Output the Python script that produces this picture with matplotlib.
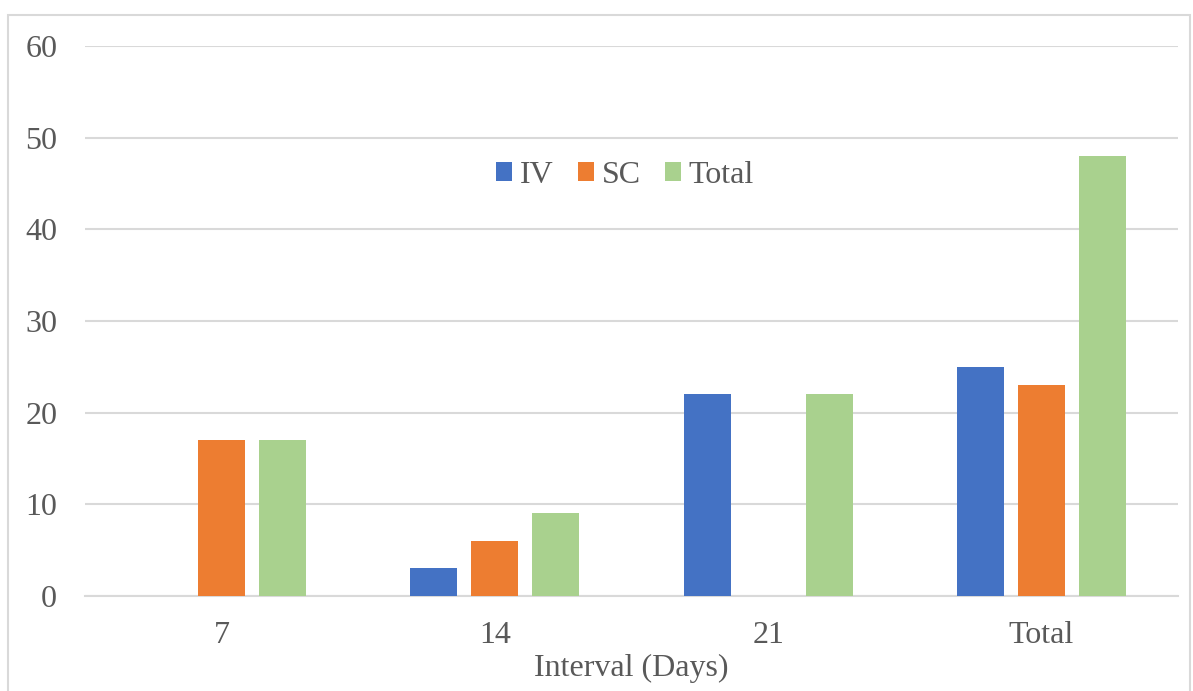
import matplotlib.pyplot as plt
from matplotlib.patches import Rectangle
import numpy as np

plt.rcParams["font.family"] = ["Liberation Serif", "DejaVu Serif"]

categories = ["7", "14", "21", "Total"]
series = ["IV", "SC", "Total"]
iv = [0, 3, 22, 25]
sc = [17, 6, 0, 23]
total = [17, 9, 22, 48]
colors = ["#4472c4", "#ed7d31", "#a9d18e"]

text_color = "#595959"
grid_color = "#d9d9d9"

fig = plt.figure(figsize=(11.93, 6.91), dpi=100)
ax = fig.add_axes([0.0712, 0.1375, 0.9162, 0.7959])

x = np.arange(len(categories))
width = 0.172
step = 0.223
for i, (name, vals) in enumerate(zip(series, [iv, sc, total])):
    ax.bar(x + (i - 1) * step, vals, width, color=colors[i], label=name, zorder=3)

ax.set_xlim(-0.5, len(categories) - 0.5)
ax.set_ylim(0, 60)
ax.set_yticks(range(0, 61, 10))
ax.set_xticks(x)
ax.set_xticklabels(categories)
ax.tick_params(axis="both", length=0, labelsize=23, colors=text_color)
ax.tick_params(axis="y", pad=20)
ax.tick_params(axis="x", pad=18)
ax.grid(axis="y", color=grid_color, linewidth=1.5, zorder=0)
for s in ["top", "right", "left"]:
    ax.spines[s].set_visible(False)
ax.spines["bottom"].set_color(grid_color)
ax.spines["bottom"].set_linewidth(1.5)

ax.set_xlabel("Interval (Days)", fontsize=23, color=text_color, labelpad=3)

leg = ax.legend(loc="center", bbox_to_anchor=(0.494, 0.765), ncol=3, frameon=False,
                fontsize=23, handlelength=0.5, handleheight=0.5,
                handletextpad=0.25, columnspacing=0.75)
for t in leg.get_texts():
    t.set_color(text_color)

# outer chart frame
fig.patches.append(Rectangle((8 / 1193, -0.05), 1182 / 1193, 1 - 15 / 691 + 0.05,
                             transform=fig.transFigure, fill=False,
                             edgecolor=grid_color, linewidth=1.5))

fig.savefig("out.png", dpi=100)
